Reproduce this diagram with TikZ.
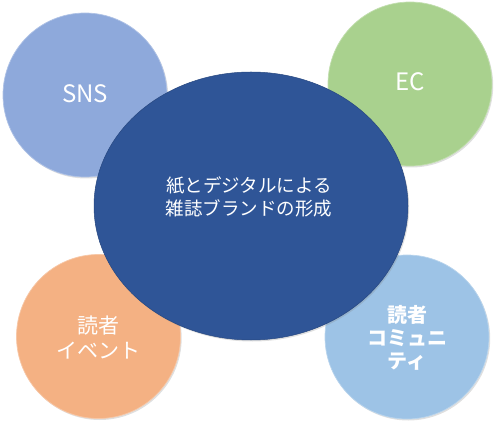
\documentclass[tikz,border=0pt]{standalone}
\usepackage{fontspec}
\setmainfont{Noto Sans CJK JP}
\usetikzlibrary{shapes.geometric,shadows}
\definecolor{snsc}{HTML}{8EA9DB}
\definecolor{ecc}{HTML}{A9D18E}
\definecolor{evc}{HTML}{F4B183}
\definecolor{cmc}{HTML}{9DC3E6}
\definecolor{mainc}{HTML}{2F5597}
\tikzset{
  bubble/.style={circle, minimum size=164pt, inner sep=0pt, line width=0.7pt,
    drop shadow={opacity=0.25, shadow xshift=1.2pt, shadow yshift=-1.5pt}},
  mainbubble/.style={ellipse, minimum width=314pt, minimum height=268pt,
    inner sep=0pt, fill=mainc, draw=mainc!85!black, line width=0.5pt,
    drop shadow={opacity=0.25, shadow xshift=1.2pt, shadow yshift=-1.5pt}},
  bubbletext/.style={align=center, text=white, inner sep=0pt}
}
\begin{document}
\begin{tikzpicture}[x=1pt,y=-1pt]
\useasboundingbox (0,0) rectangle (500,427);
\node[bubble, fill=snsc, draw=snsc!70!white] (sns) at (85,95) {};
\node[bubble, fill=ecc, draw=ecc!70!white] (ec) at (410,84) {};
\node[bubble, fill=evc, draw=evc!70!white] (ev) at (98.5,336.5) {};
\node[bubble, fill=cmc, draw=cmc!70!white] (cm) at (407,337) {};
\node[mainbubble] (main) at (251,206) {};
\node[bubbletext, font=\fontsize{24}{28}\selectfont] (snst) at ([yshift=1pt]sns.center) {SNS};
\node[bubbletext, font=\fontsize{24}{28}\selectfont] (ect) at ([yshift=2pt]ec.center) {EC};
\node[bubbletext, font=\fontsize{21}{25}\selectfont] (evt) at ([yshift=-1pt]ev.center) {読者\\イベント};
\node[bubbletext, font=\fontsize{20}{23}\selectfont\bfseries] (cmt) at ([yshift=-1pt]cm.center) {読者\\コミュニ\\ティ};
\node[bubbletext, font=\fontsize{18.5}{23}\selectfont] (maint) at ([xshift=-2pt,yshift=9.5pt]main.center) {紙とデジタルによる\\雑誌ブランドの形成};
\end{tikzpicture}
\end{document}
